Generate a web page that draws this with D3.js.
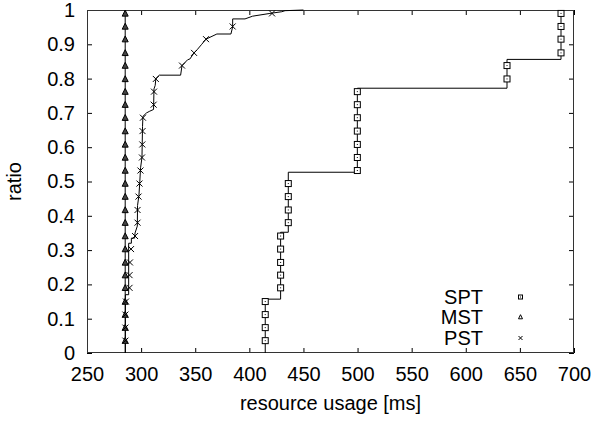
<!DOCTYPE html>
<html>
<head>
<meta charset="utf-8">
<script src="https://cdn.jsdelivr.net/npm/d3@7"></script>
<style>
  html, body { margin: 0; padding: 0; background: #fff; }
  svg { display: block; }
  text { font-family: "Liberation Sans", Arial, Helvetica, sans-serif; fill: #000; }
</style>
</head>
<body>
<svg id="chart" width="592" height="423"></svg>
<script>
// ---------------- data ----------------
const xTicks = [250, 300, 350, 400, 450, 500, 550, 600, 650, 700];
const yTicks = [0, 0.1, 0.2, 0.3, 0.4, 0.5, 0.6, 0.7, 0.8, 0.9, 1];
const yTickLabels = ["0", "0.1", "0.2", "0.3", "0.4", "0.5", "0.6", "0.7", "0.8", "0.9", "1"];
const seriesNames = ["SPT", "MST", "PST"];

// ratio of each plotted marker (shared by all three series)
const ratio = [0.036, 0.074, 0.112, 0.150, 0.190, 0.227, 0.264, 0.303, 0.341, 0.380, 0.417, 0.456, 0.494,
               0.532, 0.570, 0.608, 0.647, 0.686, 0.724, 0.762, 0.799, 0.838, 0.875, 0.915, 0.952, 0.990];

// marker x values (resource usage, ms)
const sptX = [414.7, 414.7, 414.7, 414.7, 428.9, 428.9, 428.9, 428.9, 428.9, 436.0, 436.0, 436.0, 436.0,
              499.8, 499.8, 499.8, 499.8, 499.8, 499.8, 499.8, 638.1, 638.1, 688.0, 688.0, 688.0, 688.0];
const mstX = [285.3, 285.3, 285.3, 285.3, 285.3, 285.3, 285.3, 285.3, 285.3, 285.3, 285.3, 285.3, 285.3,
              285.3, 285.3, 285.3, 285.3, 285.3, 285.3, 285.3, 285.3, 285.3, 285.3, 285.3, 285.3, 285.3];
const pstX = [285.5, 285.5, 285.5, 286.0, 289.3, 289.3, 289.7, 290.7, 294.4, 296.7, 296.7, 297.6, 298.5,
              299.4, 300.8, 301.1, 301.3, 301.7, 311.6, 311.9, 313.6, 337.8, 348.9, 360.0, 384.6, 421.0];

// CDF step lines
const sptStepX = [414.7, 428.9, 436.0, 499.8, 638.1, 688.0];
const sptStepTop = [0.157, 0.352, 0.527, 0.772, 0.856, 1.0];
const mstLineX = [285.3, 285.3];
const mstLineY = [0, 1];
const pstLineX = [285.5, 285.5, 288.5, 288.5, 291.0, 291.0, 294.0, 294.4, 296.5, 296.7, 298.0, 298.8, 299.5,
                  300.8, 301.3, 301.7, 305.0, 308.0, 311.5, 311.9, 313.0, 313.6, 316.8, 336.5, 337.8, 343.0,
                  345.0, 349.0, 352.0, 356.0, 360.0, 370.0, 383.0, 384.6, 384.6, 396.0, 403.0, 419.0, 430.0,
                  433.0, 450.0];
const pstLineY = [0, 0.17, 0.17, 0.32, 0.32, 0.335, 0.335, 0.35, 0.37, 0.43, 0.46, 0.50, 0.54,
                  0.57, 0.66, 0.69, 0.70, 0.705, 0.71, 0.77, 0.78, 0.80, 0.81, 0.81, 0.838, 0.855,
                  0.857, 0.875, 0.885, 0.90, 0.915, 0.93, 0.93, 0.951, 0.974, 0.974, 0.982, 0.99, 0.995,
                  0.998, 1.0];

// ---------------- chart ----------------
const svg = d3.select("#chart");
const L = 87, R = 574, T = 10, B = 353;
const x = d3.scaleLinear().domain([250, 700]).range([L, R]);
const y = d3.scaleLinear().domain([0, 1]).range([B, T]);
const FS = 20;

// axes (inward ticks, mirrored)
const gx = svg.append("g").attr("transform", `translate(0,${B})`)
  .call(d3.axisBottom(x).tickValues(xTicks).tickFormat(d3.format("d"))
    .tickSizeInner(-5).tickSizeOuter(0).tickPadding(14));
const gy = svg.append("g").attr("transform", `translate(${L},0)`)
  .call(d3.axisLeft(y).tickValues(yTicks).tickFormat((d, i) => yTickLabels[i])
    .tickSizeInner(-5).tickSizeOuter(0).tickPadding(12));
const gxt = svg.append("g").attr("transform", `translate(0,${T})`)
  .call(d3.axisTop(x).tickValues(xTicks).tickFormat(() => "").tickSizeInner(-5).tickSizeOuter(0));
const gyr = svg.append("g").attr("transform", `translate(${R},0)`)
  .call(d3.axisRight(y).tickValues(yTicks).tickFormat(() => "").tickSizeInner(-5).tickSizeOuter(0));
[gx, gy, gxt, gyr].forEach(g => {
  g.select(".domain").remove();
  g.selectAll(".tick line").attr("stroke", "#000").attr("stroke-width", 1);
  g.selectAll("text").attr("font-size", FS).attr("font-family", '"Liberation Sans", Arial, sans-serif').attr("fill", "#000");
});

// frame
svg.append("rect").attr("x", L + 0.5).attr("y", T + 0.5)
  .attr("width", R - L - 1).attr("height", B - T - 1)
  .attr("fill", "none").attr("stroke", "#333").attr("stroke-width", 1);

// axis titles
svg.append("text").attr("x", (L + R) / 2).attr("y", 410).attr("text-anchor", "middle")
  .attr("font-size", FS).text("resource usage [ms]");
svg.append("text").attr("transform", `translate(21,${(T + B) / 2}) rotate(-90)`)
  .attr("text-anchor", "middle").attr("font-size", FS).text("ratio");

const line = d3.line().x(d => x(d[0])).y(d => y(d[1]));
const lines = svg.append("g").attr("fill", "none").attr("stroke", "#000").attr("stroke-width", 1);

// SPT step line
const sptPts = [[sptStepX[0], 0]];
sptStepX.forEach((sx, i) => {
  sptPts.push([sx, sptStepTop[i]]);
  if (i + 1 < sptStepX.length) sptPts.push([sptStepX[i + 1], sptStepTop[i]]);
});
lines.append("path").attr("d", line(sptPts));
// MST line
lines.append("path").attr("d", line(mstLineX.map((v, i) => [v, mstLineY[i]])));
// PST line
lines.append("path").attr("d", line(pstLineX.map((v, i) => [v, pstLineY[i]])));

// marker drawers
function drawSquare(g, cx, cy, s) {
  g.append("rect").attr("x", cx - s / 2).attr("y", cy - s / 2).attr("width", s).attr("height", s)
    .attr("fill", "#fff").attr("stroke", "#000").attr("stroke-width", 1);
  g.append("rect").attr("x", cx - 0.5).attr("y", cy - 0.5).attr("width", 1).attr("height", 1).attr("fill", "#000");
}
function drawTriangle(g, cx, cy, s, fill) {
  const h = s * 0.9;
  g.append("path").attr("d", `M${cx},${cy - h / 2 - 0.5}L${cx + s / 2},${cy + h / 2}L${cx - s / 2},${cy + h / 2}Z`)
    .attr("fill", fill).attr("stroke", "#000").attr("stroke-width", 1);
}
function drawCross(g, cx, cy, s) {
  const r = s / 2;
  g.append("path").attr("d", `M${cx - r},${cy - r}L${cx + r},${cy + r}M${cx - r},${cy + r}L${cx + r},${cy - r}`)
    .attr("fill", "none").attr("stroke", "#000").attr("stroke-width", 1);
}

const marks = svg.append("g");
ratio.forEach((r, i) => drawSquare(marks, x(sptX[i]), y(r), 6));
ratio.forEach((r, i) => drawTriangle(marks, x(mstX[i]), y(r), 6, "#444"));
ratio.forEach((r, i) => drawCross(marks, x(pstX[i]), y(r), 6));

// legend
const legY = [297, 317, 338];
const leg = svg.append("g");
seriesNames.forEach((n, i) => {
  leg.append("text").attr("x", 483).attr("y", legY[i]).attr("dy", "0.36em")
    .attr("text-anchor", "end").attr("font-size", FS).text(n);
});
drawSquare(leg, 520.5, legY[0], 4);
drawTriangle(leg, 520.5, legY[1], 4, "#fff");
drawCross(leg, 520.5, legY[2], 4);
</script>
</body>
</html>
